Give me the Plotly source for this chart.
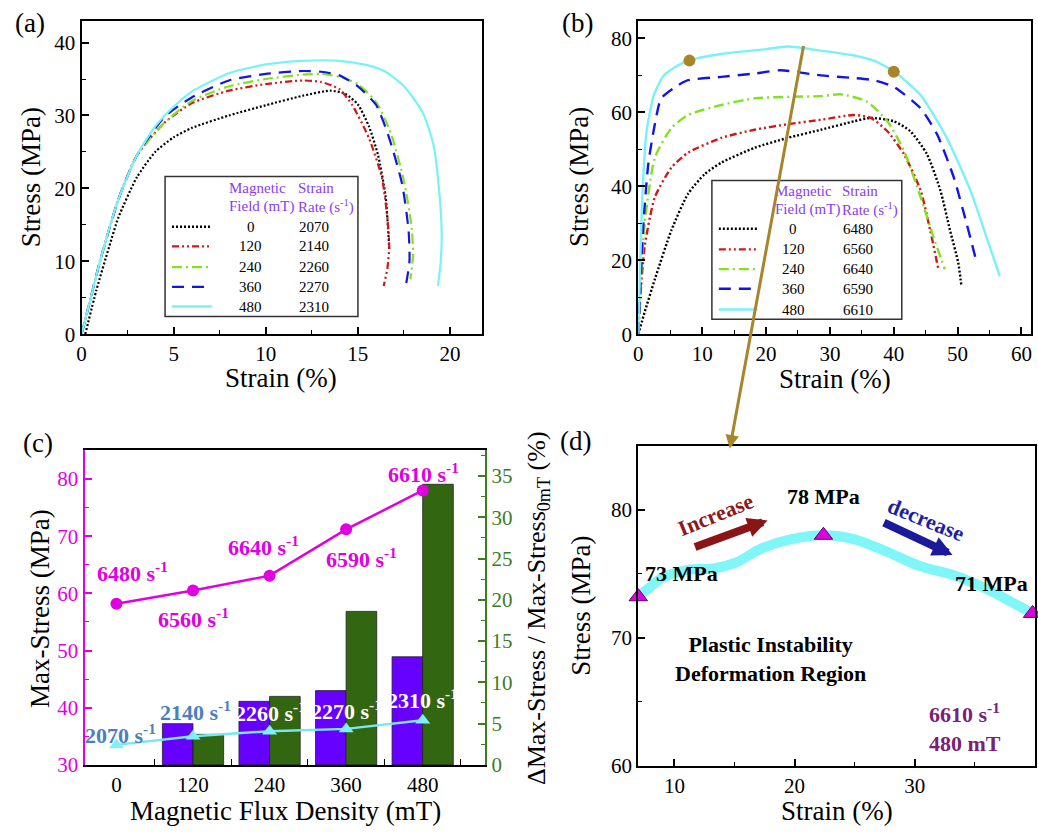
import plotly.graph_objects as go

W, H = 1038, 838
FONT = "Liberation Serif, Times New Roman, Times, serif"

# ---------------- data ----------------
fields = [0, 120, 240, 360, 480]
rates_low = [2070, 2140, 2260, 2270, 2310]
rates_high = [6480, 6560, 6640, 6590, 6610]

# panel (a): stress-strain at low strain rate
a_strain_0 = [0.2, 0.8, 1.5, 2, 3, 4, 5, 6, 8, 10, 12, 13.5, 14.3, 15, 15.6, 16.1, 16.5, 16.65, 16.7]
a_stress_0 = [0, 6, 12, 16, 21.5, 25, 27, 28.3, 30, 31.4, 32.7, 33.4, 33, 31.5, 28.5, 24.5, 19, 14, 11.5]
a_strain_120 = [0, 0.5, 1, 2, 3, 4.5, 6, 8, 10, 12, 13, 14, 14.7, 15.6, 16.3, 16.6, 16.7, 16.6, 16.4]
a_stress_120 = [0, 5, 10, 18.5, 24.5, 29, 31.7, 33.4, 34.3, 34.8, 34.6, 33.6, 31.4, 26.9, 21.5, 16, 12, 9, 6.6]
a_strain_240 = [0, 0.5, 1, 2, 3, 4.5, 6, 8, 10, 12, 13, 14, 15, 16, 16.8, 17.5, 17.9, 18.0, 17.85]
a_stress_240 = [0, 5, 10, 18.5, 24.5, 29, 32, 34, 35, 35.6, 35.7, 35.3, 34.3, 31.8, 27.5, 21, 15, 11, 7.5]
a_strain_360 = [0, 0.5, 1, 2, 3, 4.5, 6, 8, 10, 12, 13, 14, 15, 16, 16.7, 17.4, 17.75, 17.8, 17.6]
a_stress_360 = [0, 5, 10, 18.5, 24.5, 29.8, 32.5, 34.8, 35.7, 36.1, 36, 35.5, 34, 31.4, 26.9, 20.6, 14.3, 10, 6.6]
a_strain_480 = [0, 0.5, 1, 2, 3, 4, 5, 6, 8, 10, 12, 14, 15.5, 16.5, 17.5, 18.5, 19.1, 19.4, 19.55, 19.5, 19.35]
a_stress_480 = [0, 5, 10, 18.5, 24.5, 28.5, 31.2, 33.3, 35.8, 37, 37.5, 37.5, 36.9, 36, 34, 30.5, 26, 20, 14, 10, 6.6]

# panel (b): stress-strain at high strain rate
b_strain_0 = [0, 1, 2.6, 5.2, 7.8, 10.4, 13, 18.2, 23.4, 28.6, 33.8, 36.4, 40, 42.6, 45.2, 47.3, 48.8, 50.1, 50.6]
b_stress_0 = [0, 6, 14.9, 28.2, 38, 43.3, 46.4, 50.4, 53.1, 55.3, 57.6, 58.5, 57.6, 54.9, 48.7, 38.9, 28.2, 19.3, 13]
b_strain_120 = [0, 0.3, 1, 2.6, 5.2, 7.8, 13, 18.2, 23.4, 28.6, 33.8, 36.4, 39, 41.6, 44.2, 45.7, 47]
b_stress_120 = [0, 10, 23.8, 37.1, 45.1, 49.1, 53.1, 55.3, 56.8, 58, 59.3, 58.5, 54.9, 48.7, 38.9, 28.2, 17.5]
b_strain_240 = [0, 0.3, 1, 2.6, 5.2, 7.8, 13, 18.2, 23.4, 28.6, 31.7, 35.8, 39, 41.6, 44.2, 46.2, 48]
b_stress_240 = [0, 12, 30, 47.8, 55.8, 59.3, 62, 63.8, 64.2, 64.4, 64.9, 62.9, 57.6, 49.6, 37.1, 26.4, 17.5]
b_strain_360 = [0, 0.3, 0.8, 1.56, 2.5, 3.6, 6.2, 7.8, 13, 18.2, 22.3, 28.6, 33.8, 36.9, 40, 44.2, 46.8, 49.4, 51.4, 53]
b_stress_360 = [0, 12, 30, 46, 56, 63.8, 67.3, 68.7, 69.6, 70.5, 71.4, 70, 69.3, 68.7, 66.9, 61.1, 54, 42.4, 30, 19.3]
b_strain_480 = [0, 0.3, 0.7, 1.3, 2.5, 4, 6, 7.8, 13, 20, 23.4, 28.6, 33.8, 36.9, 40, 44.2, 48.3, 52, 54.5, 56.6]
b_stress_480 = [0, 20, 40, 55, 65, 70, 72.5, 74, 75.8, 77.1, 77.8, 76.7, 75.4, 74, 71.1, 64.7, 53.1, 38.9, 26.4, 15.7]
b_mark_strain = [8, 40]
b_mark_stress = [74, 71]

# panel (c): max stress and relative increase
max_stress_high = [58.2, 60.5, 63.1, 71.2, 78.0]
max_stress_low = [33.5, 35.0, 35.9, 36.3, 37.8]
bar_fields = [120, 240, 360, 480]
delta_low = [5.0, 7.7, 9.0, 13.1]
delta_high = [3.7, 8.3, 18.6, 34.0]

# panel (d): plastic instability region (6610 s-1, 480 mT)
d_strain = [7, 8.3, 8.85, 11.1, 13.3, 15.2, 17.1, 19.3, 22.4, 24.9, 27.7, 30.4, 33.2, 36, 38.2, 39.8]
d_stress = [73.2, 74.2, 74.6, 75.3, 75.4, 75.9, 76.9, 77.6, 78.0, 77.7, 76.7, 75.6, 74.9, 73.8, 72.7, 71.9]
d_key_strain = [7, 22.4, 39.8]
d_key_stress = [73.2, 78.0, 71.9]
d_key_labels = ["73 MPa", "78 MPa", "71 MPa"]

# ---------------- styles ----------------
COL = {0: "#000000", 120: "#D01818", 240: "#82E222", 360: "#1414E6", 480: "#78F2F8"}
DASH = {0: "2px,2px", 120: "7px,3px,2px,3px,2px,3px", 240: "10px,4px,2px,4px",
        360: "12px,8px", 480: "solid"}
BROWN = "#A8842A"
MAGENTA = "#E000E0"
GREEN_AX = "#3C7D1E"
PURPLE_BAR = "#6600FF"
GREEN_BAR = "#336611"
STEEL = "#4A80C0"
HDR = "#8A3CF0"


def px(xp):
    return xp / W


def py(yp):
    return 1 - yp / H


fig = go.Figure()

a_sets = [(a_strain_0, a_stress_0), (a_strain_120, a_stress_120), (a_strain_240, a_stress_240),
          (a_strain_360, a_stress_360), (a_strain_480, a_stress_480)]
b_sets = [(b_strain_0, b_stress_0), (b_strain_120, b_stress_120), (b_strain_240, b_stress_240),
          (b_strain_360, b_stress_360), (b_strain_480, b_stress_480)]

for f, (xs, ys) in zip(fields, a_sets):
    fig.add_trace(go.Scatter(x=xs, y=ys, mode="lines", xaxis="x", yaxis="y",
                             line=dict(color=COL[f], dash=DASH[f], width=2.2, shape="spline", smoothing=0.6),
                             showlegend=False, hoverinfo="skip"))
for f, (xs, ys) in zip(fields, b_sets):
    fig.add_trace(go.Scatter(x=xs, y=ys, mode="lines", xaxis="x2", yaxis="y2",
                             line=dict(color=COL[f], dash=DASH[f], width=2.4, shape="spline", smoothing=0.6),
                             showlegend=False, hoverinfo="skip"))
fig.add_trace(go.Scatter(x=b_mark_strain, y=b_mark_stress, mode="markers", xaxis="x2", yaxis="y2",
                         marker=dict(color=BROWN, size=12), showlegend=False))

# panel (c)
fig.add_trace(go.Bar(x=bar_fields, y=delta_low, xaxis="x3", yaxis="y3",
                     marker=dict(color=PURPLE_BAR, line=dict(color="#222222", width=0.8)), showlegend=False))
fig.add_trace(go.Bar(x=bar_fields, y=delta_high, xaxis="x3", yaxis="y3",
                     marker=dict(color=GREEN_BAR, line=dict(color="#222222", width=0.8)), showlegend=False))
fig.add_trace(go.Scatter(x=fields, y=max_stress_high, mode="lines+markers", xaxis="x3", yaxis="y4",
                         line=dict(color=MAGENTA, width=2.5), marker=dict(color=MAGENTA, size=12, symbol="circle"),
                         showlegend=False, cliponaxis=False))
fig.add_trace(go.Scatter(x=fields, y=max_stress_low, mode="lines+markers", xaxis="x3", yaxis="y4",
                         line=dict(color="#78E8F0", width=2.5),
                         marker=dict(color="#80F0F8", size=13, symbol="triangle-up"),
                         showlegend=False, cliponaxis=False))

# panel (d)
fig.add_trace(go.Scatter(x=d_strain, y=d_stress, mode="lines", xaxis="x5", yaxis="y5",
                         line=dict(color="#80F6F8", width=10, shape="spline", smoothing=1.0),
                         showlegend=False))
fig.add_trace(go.Scatter(x=d_key_strain, y=d_key_stress, mode="markers", xaxis="x5", yaxis="y5",
                         marker=dict(color="#E000E0", size=16, symbol="triangle-up",
                                     line=dict(color="#600060", width=1)),
                         showlegend=False, cliponaxis=False))

# ---------------- axes ----------------
tickfont = dict(family=FONT, size=21, color="black")


def ax(domain, rng, dtick=None, mnr=None, anchor=None, **kw):
    d = dict(domain=domain, range=rng, showgrid=False, zeroline=False, showline=True,
             linecolor="black", linewidth=2, mirror=True, ticks="inside", ticklen=7,
             tickwidth=1.5, tickcolor="black", tickfont=tickfont, anchor=anchor)
    if dtick is not None:
        d["dtick"] = dtick
        d["tick0"] = 0
    if mnr is not None:
        d["minor"] = dict(dtick=mnr, tick0=0, ticks="inside", ticklen=4, tickwidth=1.2,
                          tickcolor="black", showgrid=False)
    d.update(kw)
    return d


layout = dict(
    width=W, height=H, margin=dict(l=0, r=0, t=0, b=0),
    paper_bgcolor="white", plot_bgcolor="white",
    font=dict(family=FONT, color="black"),
    barmode="group", bargap=0.2, bargroupgap=0.0,
    showlegend=False,
    xaxis=ax([px(77), px(480)], [0, 21.75], 5, 2.5, "y"),
    yaxis=ax([py(339), py(21)], [0, 43], 10, 5, "x"),
    xaxis2=ax([px(637), px(1032)], [0, 61.5], 10, 5, "y2"),
    yaxis2=ax([py(339), py(21)], [0, 84.8], 20, 10, "x2"),
    xaxis3=ax([px(80), px(483)], [-50, 578], None, None, "y3",
              tickvals=fields, ticks="", ticklen=0,
              minor=dict(tickvals=[60, 180, 300, 420, 540], ticks="inside", ticklen=6,
                         tickwidth=1.2, tickcolor="black")),
    yaxis3=ax([py(776), py(457)], [0, 38.1], 5, 2.5, "x3", side="right", mirror=False,
              linecolor=GREEN_AX, tickcolor=GREEN_AX,
              tickfont=dict(family=FONT, size=21, color=GREEN_AX)),
    yaxis4=ax([py(776), py(457)], [30, 85], 10, 5, "x3", side="left", overlaying="y3", mirror=False,
              linecolor=MAGENTA, tickcolor=MAGENTA,
              tickfont=dict(family=FONT, size=21, color=MAGENTA)),
    xaxis5=ax([px(637), px(1036)], [7, 40], 10, 5, "y5"),
    yaxis5=ax([py(777), py(452)], [60, 85], 10, 5, "x5"),
)
layout["yaxis3"]["minor"]["tickcolor"] = GREEN_AX
layout["yaxis4"]["minor"]["tickcolor"] = MAGENTA
fig.update_layout(**layout)

annotations = []
shapes = []


def text(xp, yp, s, size=26, color="black", angle=0, bold=False, xanchor="center", align="center"):
    if bold:
        s = "<b>" + s + "</b>"
    annotations.append(dict(x=px(xp), y=py(yp), xref="paper", yref="paper", text=s, showarrow=False,
                            font=dict(family=FONT, size=size, color=color), textangle=angle,
                            xanchor=xanchor, yanchor="middle", align=align))


# panel labels
text(25, 23, "(a)", 27)
text(576, 23, "(b)", 27)
text(33, 449, "(c)", 27)
text(574, 447, "(d)", 27)

# axis titles
text(278, 383, "Strain (%)", 27)
text(27, 180, "Stress (MPa)", 27, angle=-90)
text(835, 385, "Strain (%)", 27)
text(578, 180, "Stress (MPa)", 27, angle=-90)
text(282, 823, "Magnetic Flux Density (mT)", 27)
text(35, 617, "Max-Stress (MPa)", 27, angle=-90)
text(536, 617, "ΔMax-Stress / Max-Stress<sub>0mT</sub> (%)", 26, angle=-90)
text(837, 823, "Strain (%)", 27)
text(580, 615, "Stress (MPa)", 27, angle=-90)


# custom legends
def legend(box, hx1, hx2, hy, rows, sx, vcx, rcx, rates):
    shapes.append(dict(type="rect", xref="paper", yref="paper", x0=px(box[0]), x1=px(box[2]),
                       y0=py(box[3]), y1=py(box[1]), line=dict(color="#333333", width=1.5),
                       fillcolor="white", layer="above"))
    text(hx1, hy[0], "Magnetic", 15, HDR, xanchor="left")
    text(hx1, hy[1], "Field (mT)", 15, HDR, xanchor="left")
    text(hx2, hy[0], "Strain", 15, HDR, xanchor="left")
    text(hx2, hy[1], "Rate (s<sup>-1</sup>)", 15, HDR, xanchor="left")
    for f, r, yr in zip(fields, rates, rows):
        shapes.append(dict(type="line", xref="paper", yref="paper", x0=px(sx[0]), x1=px(sx[1]),
                           y0=py(yr), y1=py(yr), line=dict(color=COL[f], dash=DASH[f], width=2.4),
                           layer="above"))
        text(vcx, yr, str(f), 15)
        text(rcx, yr, str(r), 15)


legend((161, 179, 355, 321), 223, 293, (191, 210), (230, 250, 271, 291, 311), (168, 208), 247, 311, rates_low)
legend((711, 183, 902, 324), 772, 840, (194, 213), (232, 253, 273, 293, 314), (718, 757), 793, 858, rates_high)

# panel (c) labels anchored on the data points
hi_shift = [(16, 32), (1, -27), (-6, 30), (15, -29), (1, 17)]
lo_shift = [(4, 11), (3, 25), (1, 19), (0, 19), (0, 21)]
lo_col = [STEEL, STEEL, "white", "white", "white"]
for f, v, r, (dx, dy) in zip(fields, max_stress_high, rates_high, hi_shift):
    annotations.append(dict(x=f, y=v, xref="x3", yref="y4", text="<b>%d s<sup>-1</sup></b>" % r,
                            showarrow=False, xshift=dx, yshift=dy,
                            font=dict(family=FONT, size=22, color=MAGENTA)))
for f, v, r, (dx, dy), c in zip(fields, max_stress_low, rates_low, lo_shift, lo_col):
    annotations.append(dict(x=f, y=v, xref="x3", yref="y4", text="<b>%d s<sup>-1</sup></b>" % r,
                            showarrow=False, xshift=dx, yshift=dy,
                            font=dict(family=FONT, size=22, color=c)))

# panel (d) labels
d_shift = [(43, 23), (0, 39), (-41, 30)]
for xv, yv, lab, (dx, dy) in zip(d_key_strain, d_key_stress, d_key_labels, d_shift):
    annotations.append(dict(x=xv, y=yv, xref="x5", yref="y5", text="<b>%s</b>" % lab, showarrow=False,
                            xshift=dx, yshift=dy, font=dict(family=FONT, size=22, color="black")))
text(715, 522, "Increase", 22, "#8B1A1A", angle=-22, bold=True)
text(926, 527, "decrease", 22, "#1E1EA8", angle=22, bold=True)
text(770, 669, "Plastic Instability<br>Deformation Region", 22, bold=True)
text(927, 738, "6610 s<sup>-1</sup><br>480 mT", 22, "#7A1F7A", bold=True, xanchor="left", align="left")

# arrows
annotations.append(dict(x=px(767), y=py(528), xref="paper", yref="paper", text="", showarrow=True,
                        ax=-74, ay=27, arrowcolor="#8B1414", arrowwidth=8, arrowhead=2, arrowsize=0.5))
annotations.append(dict(x=px(953), y=py(563), xref="paper", yref="paper", text="", showarrow=True,
                        ax=-70, ay=-33, arrowcolor="#1A1A9C", arrowwidth=8, arrowhead=2, arrowsize=0.5))
annotations.append(dict(x=px(729), y=py(455), xref="paper", yref="paper", text="", showarrow=True,
                        ax=74, ay=-404, arrowcolor=BROWN, arrowwidth=3, arrowhead=2, arrowsize=0.9))

fig.update_layout(annotations=annotations, shapes=shapes)
fig.write_html(
    "out.html",
    config={"displayModeBar": False},
    post_script=(
        "document.documentElement.style.margin='0px';"
        "document.body.style.margin='0px';document.body.style.overflow='hidden';"
        "var gd=document.getElementById('{plot_id}');"
        "gd.style.position='fixed';gd.style.left='0px';gd.style.top='0px';"
    ),
)
